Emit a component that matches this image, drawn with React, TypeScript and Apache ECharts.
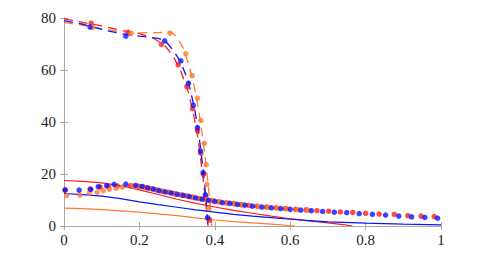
import React, { useEffect, useRef } from "react";
import * as echarts from "echarts";

const BLUE = "#0a14ff";
const RED = "#ff1a1a";
const ORANGE = "#ff7a30";

const xTicks = [0, 0.2, 0.4, 0.6, 0.8, 1];
const yTicks = [0, 20, 40, 60, 80];

const blueDashed: [number, number][] = [[0,79.0],[0.05,77.6],[0.1,75.6],[0.15,74.0],[0.2,73.0],[0.25,72.2],[0.27,71.0],[0.29,67.5],[0.31,63.0],[0.33,55.5],[0.345,46],[0.355,38],[0.363,29],[0.37,20.5],[0.376,11],[0.38,3.5],[0.382,0]];
const redDashed: [number, number][] = [[0,79.7],[0.05,78.3],[0.1,77.0],[0.14,75.6],[0.2,74],[0.24,72],[0.27,69],[0.29,65.2],[0.31,59.5],[0.33,51.5],[0.345,42],[0.355,34],[0.363,25],[0.37,17],[0.377,8],[0.382,0]];
const orangeDashed: [number, number][] = [[0,78.3],[0.05,77.2],[0.1,75.9],[0.15,74.8],[0.2,74.3],[0.25,74.4],[0.285,74.6],[0.3,72.5],[0.316,68.5],[0.33,62.5],[0.345,54],[0.357,45],[0.366,36],[0.374,27],[0.381,18],[0.387,9],[0.392,0]];

const blueHigh: [number, number][] = [[0.069,76.5],[0.164,73.0],[0.267,71.2],[0.31,63.5],[0.33,54.9],[0.343,46.4],[0.354,37.8],[0.362,28.8],[0.369,20.5],[0.375,12.0],[0.381,3.2]];
const redHigh: [number, number][] = [[0.072,78.0],[0.17,74.5],[0.258,69.9],[0.303,62.0],[0.326,53.6],[0.341,45.1],[0.354,36.7],[0.363,28.0],[0.37,19.9],[0.376,11.2],[0.385,2.3]];
const orangeHigh: [number, number][] = [[0.076,76.4],[0.178,74.1],[0.281,74.2],[0.323,66.3],[0.34,57.8],[0.354,49.2],[0.363,40.6],[0.372,31.8],[0.377,23.6],[0.379,16.0],[0.383,6.8]];

const blueLow: [number, number][] = [[0.003,13.8],[0.04,13.8],[0.071,14.1],[0.091,15.1],[0.113,15.5],[0.133,16.0],[0.164,16.1],[0.19,15.6],[0.207,15.2],[0.222,14.7],[0.237,14.2],[0.252,13.6],[0.268,13.1],[0.284,12.7],[0.3,12.2],[0.316,11.8],[0.332,11.3],[0.349,10.8],[0.366,10.3],[0.383,9.9],[0.4,9.5],[0.42,9.0],[0.44,8.7],[0.46,8.3],[0.48,8.0],[0.5,7.6],[0.525,7.3],[0.55,7.0],[0.575,6.7],[0.6,6.4],[0.628,6.1],[0.656,5.9],[0.686,5.6],[0.717,5.3],[0.75,5.1],[0.783,4.8],[0.818,4.5],[0.853,4.2],[0.888,3.8],[0.922,3.5],[0.957,3.3],[0.991,3.0]];
const redLow: [number, number][] = [[0.003,13.9],[0.069,14.2],[0.096,15.0],[0.118,15.1],[0.141,15.4],[0.177,15.5],[0.198,15.3],[0.214,14.9],[0.229,14.4],[0.244,13.9],[0.26,13.4],[0.276,13.0],[0.292,12.5],[0.308,12.0],[0.324,11.6],[0.34,11.1],[0.357,10.6],[0.374,10.2],[0.391,9.8],[0.41,9.3],[0.43,8.9],[0.45,8.6],[0.47,8.2],[0.49,7.9],[0.512,7.6],[0.537,7.3],[0.562,7.0],[0.587,6.7],[0.614,6.4],[0.642,6.2],[0.671,5.9],[0.702,5.7],[0.733,5.4],[0.766,5.2],[0.8,4.9],[0.836,4.6],[0.876,4.5],[0.912,4.0],[0.947,3.8],[0.982,3.6]];
const orangeLow: [number, number][] = [[0.007,11.7],[0.042,11.9],[0.067,12.6],[0.088,13.0],[0.104,13.6],[0.12,14.1],[0.138,14.5],[0.155,15.0],[0.185,15.3],[0.203,15.1],[0.219,14.7],[0.234,14.3],[0.249,13.8],[0.265,13.3],[0.281,12.9],[0.297,12.4],[0.313,11.9],[0.329,11.5],[0.345,11.0],[0.362,10.5],[0.379,10.1],[0.396,9.7],[0.415,9.2],[0.435,8.8],[0.455,8.5],[0.475,8.1],[0.495,7.8],[0.517,7.5],[0.542,7.2],[0.567,6.9],[0.592,6.6],[0.619,6.3],[0.647,6.1]];

const redSolid: [number, number][] = [[0,17.5],[0.05,17.2],[0.1,16.6],[0.15,15.5],[0.2,13.9],[0.25,12.1],[0.3,10.3],[0.35,8.7],[0.4,7.3],[0.45,6.0],[0.5,4.9],[0.55,3.8],[0.6,2.8],[0.65,2.0],[0.7,1.2],[0.74,0.5],[0.765,0]];
const blueSolid: [number, number][] = [[0,12.5],[0.05,12.1],[0.1,11.5],[0.15,10.5],[0.2,9.3],[0.25,8.2],[0.3,7.2],[0.35,6.2],[0.4,5.3],[0.45,4.5],[0.5,3.8],[0.55,3.2],[0.6,2.6],[0.65,2.1],[0.7,1.6],[0.8,1.1],[0.9,0.7],[1,0.4]];
const orangeSolid: [number, number][] = [[0,6.9],[0.05,6.7],[0.1,6.3],[0.15,5.8],[0.2,5.3],[0.25,4.7],[0.3,4.0],[0.35,3.1],[0.4,2.3],[0.45,1.7],[0.5,1.2],[0.55,0.7],[0.613,0]];

const FONT = "'Liberation Serif', 'DejaVu Serif', serif";
const AXIS_COLOR = "#a8a8a8";

export default function App() {
  const ref = useRef<HTMLDivElement>(null);
  useEffect(() => {
    if (!ref.current) return;
    const chart = echarts.init(ref.current, null, { renderer: "svg" });
    const line = (data: [number, number][], color: string, dashed: boolean) => ({
      type: "line",
      data,
      showSymbol: false,
      symbol: "none",
      lineStyle: { color, width: dashed ? 1.3 : 1.2, type: dashed ? [9, 6] : "solid" },
      z: 2,
    });
    const dots = (data: [number, number][], color: string, z: number) => ({
      type: "scatter",
      data,
      symbol: "circle",
      symbolSize: 5.5,
      itemStyle: { color },
      z,
    });
    const baseAxis = {
      type: "value",
      axisLine: { show: true, lineStyle: { color: AXIS_COLOR, width: 1 } },
      axisTick: { show: true, inside: true, length: 4, lineStyle: { color: AXIS_COLOR } },
      splitLine: { show: false },
    };
    chart.setOption({
      animation: false,
      textStyle: { fontFamily: FONT },
      grid: { left: 64, right: 47, top: 18, bottom: 28, containLabel: false },
      xAxis: [
        {
          ...baseAxis,
          position: "bottom",
          min: 0, max: 1, interval: 0.2,
          axisLabel: { color: "#222", fontFamily: FONT, fontSize: 15, margin: 6, formatter: (v: number) => (xTicks.includes(Math.round(v * 10) / 10) ? String(Math.round(v * 10) / 10) : "") },
        },
        {
          ...baseAxis,
          position: "top",
          min: 0, max: 1, interval: 0.2,
          axisLabel: { show: false },
        },
      ],
      yAxis: [
        {
          ...baseAxis,
          position: "left",
          min: 0, max: 80, interval: 20,
          axisLabel: { color: "#222", fontFamily: FONT, fontSize: 15, margin: 8, formatter: (v: number) => (yTicks.includes(v) ? String(v) : "") },
        },
        {
          ...baseAxis,
          position: "right",
          min: 0, max: 80, interval: 20,
          axisLabel: { show: false },
        },
      ],
      series: [
        line(redDashed, RED, true),
        line(orangeDashed, ORANGE, true),
        line(blueDashed, BLUE, true),
        line(redSolid, RED, false),
        line(orangeSolid, ORANGE, false),
        line(blueSolid, BLUE, false),
        dots(redHigh, RED, 3),
        dots(orangeHigh, ORANGE, 3),
        dots(blueHigh, BLUE, 3),
        dots(redLow, RED, 3),
        dots(orangeLow, ORANGE, 3),
        dots(blueLow, BLUE, 4),
      ],
    });
    return () => chart.dispose();
  }, []);
  return <div ref={ref} style={{ width: 488, height: 254, position: "absolute", left: 0, top: 0 }} />;
}
